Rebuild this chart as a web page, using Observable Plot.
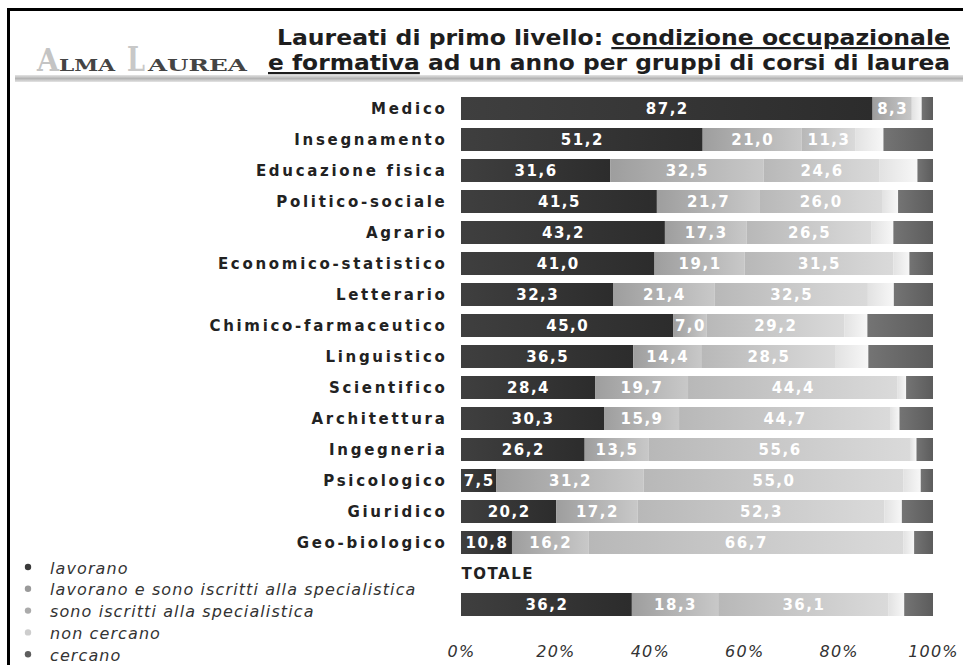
<!DOCTYPE html>
<html><head><meta charset="utf-8">
<script src="https://cdn.jsdelivr.net/npm/d3@7"></script>
<script src="https://cdn.jsdelivr.net/npm/@observablehq/plot@0.6"></script>
<style>
html,body{margin:0;padding:0;background:#fff;}
#wrap{position:relative;width:963px;height:665px;overflow:hidden;background:#fff;}
#wrap > svg{position:absolute;left:0;top:0;}
</style></head><body><div id="wrap"></div>
<script>
// ---- data ----
const categories = ["Medico","Insegnamento","Educazione fisica","Politico-sociale","Agrario","Economico-statistico","Letterario","Chimico-farmaceutico","Linguistico","Scientifico","Architettura","Ingegneria","Psicologico","Giuridico","Geo-biologico"];
const totalLabel = "TOTALE";
const series = ["lavorano","lavorano e sono iscritti alla specialistica","sono iscritti alla specialistica","non cercano","cercano"];
// last value of every array = TOTALE
const lavorano         = [87.2,51.2,31.6,41.5,43.2,41.0,32.3,45.0,36.5,28.4,30.3,26.2, 7.5,20.2,10.8,36.2];
const lavoranoIscritti = [ 8.3,21.0,32.5,21.7,17.3,19.1,21.4, 7.0,14.4,19.7,15.9,13.5,31.2,17.2,16.2,18.3];
const iscritti         = [ 0.0,11.3,24.6,26.0,26.5,31.5,32.5,29.2,28.5,44.4,44.7,55.6,55.0,52.3,66.7,36.1];
const nonCercano       = [ 2.1, 6.0, 8.0, 3.4, 4.6, 3.4, 5.5, 4.9, 6.9, 1.8, 2.0, 1.2, 3.7, 3.7, 2.3, 3.3];
const cercano          = [ 2.4,10.5, 3.3, 7.4, 8.4, 5.0, 8.3,13.9,13.7, 5.7, 7.1, 3.5, 2.6, 6.6, 4.0, 6.1];
const labeledSeries = series.slice(0,3);
const xTicks = [0,20,40,60,80,100];
const titleLine1 = ["Laureati di primo livello: ", "condizione occupazionale"];
const titleLine2 = ["e formativa", " ad un anno per gruppi di corsi di laurea"];

// ---- styles ----
const gradStops = [["#3f3f3f","#2c2c2c"],["#9e9e9e","#c8c8c8"],["#b8b8b8","#dadada"],["#e2e2e2","#f7f7f7"],["#747474","#5c5c5c"]];
const legendColors = ["#3a3a3a","#9a9a9a","#ababab","#cdcdcd","#5e5e5e"];

const SPACER = "\u00a0spacer";
const rowKeys = [...categories, SPACER, totalLabel];
const barRows = [...categories, totalLabel];
const valueArrays = [lavorano, lavoranoIscritti, iscritti, nonCercano, cercano];
const data = [];
barRows.forEach((c, i) => valueArrays.forEach((arr, k) => data.push({cat: c, series: series[k], value: arr[i]})));
const fmt = v => v.toFixed(1).replace(".", ",");

const plot = Plot.plot({
  width: 963, height: 665,
  marginLeft: 461, marginRight: 30, marginTop: 88, marginBottom: 40,
  x: {domain: [0, 100], axis: null},
  y: {domain: rowKeys, paddingInner: 0.25, paddingOuter: 0.125, axis: null},
  color: {domain: series, range: series.map((s, i) => `url(#grad${i})`)},
  style: {background: "transparent", fontFamily: "'DejaVu Sans', Verdana, sans-serif", color: "#222"},
  marks: [
    Plot.barX(data, {x: "value", y: "cat", fill: "series"}),
    Plot.text(data.filter(d => labeledSeries.includes(d.series) && d.value > 0),
      Plot.stackX({x: "value", y: "cat", z: "series", text: d => fmt(d.value), fill: "white", fontWeight: "bold", fontSize: 15})),
    Plot.axisY(categories, {tickSize: 0, tickPadding: 14, fontSize: 15, fontWeight: "bold", fill: "#222", label: null}),
    Plot.text([totalLabel], {x: 0, y: () => SPACER, text: d => d, textAnchor: "start", fontSize: 15, fontWeight: "bold", fill: "#222"}),
    Plot.axisX(xTicks, {tickSize: 0, tickPadding: 20, tickFormat: d => d + "%", fontSize: 16, fontStyle: "italic", fill: "#333", label: null})
  ]
});

const wrap = document.getElementById("wrap");
wrap.appendChild(plot);
const ps = d3.select(plot);
const defs = ps.insert("defs", ":first-child");
gradStops.forEach(([c0, c1], i) => {
  const g = defs.append("linearGradient").attr("id", "grad" + i).attr("x1", 0).attr("x2", 1).attr("y1", 0).attr("y2", 0);
  g.append("stop").attr("offset", "0%").attr("stop-color", c0);
  g.append("stop").attr("offset", "100%").attr("stop-color", c1);
});
ps.selectAll('g[aria-label="y-axis tick label"] text').attr("letter-spacing", 2.7);
ps.selectAll('g[aria-label="text"] text').attr("letter-spacing", 1.5);
ps.selectAll('g[aria-label="x-axis tick label"] text').attr("letter-spacing", 1.2);

// ---- overlay: frame, logo, title, legend ----
const ov = d3.select(wrap).append("svg").attr("width", 963).attr("height", 665).style("pointer-events", "none");
const od = ov.append("defs");
const bg = od.append("linearGradient").attr("id", "band").attr("x1", 0).attr("x2", 0).attr("y1", 0).attr("y2", 1);
bg.append("stop").attr("offset", "0%").attr("stop-color", "#e4e4e4");
bg.append("stop").attr("offset", "50%").attr("stop-color", "#b4b4b4");
bg.append("stop").attr("offset", "100%").attr("stop-color", "#e4e4e4");
ov.append("rect").attr("x", 15).attr("y", 75).attr("width", 948).attr("height", 7).attr("fill", "url(#band)");
ov.append("line").attr("x1", 8.5).attr("x2", 963).attr("y1", 9.5).attr("y2", 9.5).attr("stroke", "#000").attr("stroke-width", 3);
ov.append("line").attr("x1", 8.5).attr("x2", 8.5).attr("y1", 8).attr("y2", 665).attr("stroke", "#000").attr("stroke-width", 3);

// logo
const serif = "'DejaVu Serif', 'Liberation Serif', serif";
ov.append("text").attr("x", 37).attr("y", 71).attr("font-family", serif).attr("font-size", 32).attr("fill", "#c4c4c4").attr("font-weight", "bold").attr("textLength", 22).attr("lengthAdjust", "spacingAndGlyphs").text("A");
ov.append("text").attr("x", 59).attr("y", 71).attr("font-family", serif).attr("font-size", 17).attr("fill", "#444").attr("font-weight", "bold").attr("textLength", 56).attr("lengthAdjust", "spacingAndGlyphs").text("LMA");
ov.append("text").attr("x", 127).attr("y", 71).attr("font-family", serif).attr("font-size", 34).attr("fill", "#c8c8c8").attr("font-weight", "bold").attr("textLength", 18).attr("lengthAdjust", "spacingAndGlyphs").text("L");
ov.append("text").attr("x", 148).attr("y", 71).attr("font-family", serif).attr("font-size", 17).attr("fill", "#444").attr("font-weight", "bold").attr("textLength", 99).attr("lengthAdjust", "spacingAndGlyphs").text("AUREA");

// title
const tfont = "'DejaVu Sans Condensed', 'DejaVu Sans', sans-serif";
function titleLine(parts, underlineIdx, x, y, len) {
  const t = ov.append("text").attr("x", x).attr("y", y).attr("font-family", tfont).attr("font-stretch", "condensed")
    .attr("font-weight", "bold").attr("font-size", 22).attr("fill", "#1e1e1e").attr("textLength", len).attr("lengthAdjust", "spacingAndGlyphs");
  parts.forEach((p, i) => {
    const ts = t.append("tspan").text(p);
    if (i === underlineIdx) ts.style("text-decoration", "underline");
  });
}
titleLine(titleLine1, 1, 277, 45, 673);
titleLine(titleLine2, 0, 268, 70, 682);

// legend
const lg = ov.append("g");
series.forEach((s, i) => {
  const y = 568 + i * 21.8;
  lg.append("circle").attr("cx", 28).attr("cy", y - 1).attr("r", 3.2).attr("fill", legendColors[i]);
  lg.append("text").attr("x", 50).attr("y", y).attr("dy", "0.35em").attr("font-family", "'DejaVu Sans', sans-serif")
    .attr("font-style", "italic").attr("font-size", 16).attr("letter-spacing", 1.1).attr("fill", "#333").text(s);
});
</script></body></html>
